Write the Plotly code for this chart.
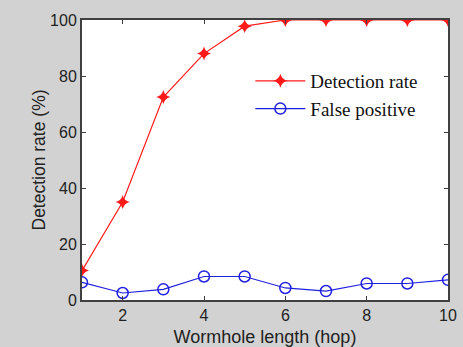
import plotly.graph_objects as go

hops = [1, 2, 3, 4, 5, 6, 7, 8, 9, 10]
detection_rate = [10.5, 35, 72.5, 88, 97.8, 100, 100, 100, 100, 100]
false_positive = [6.3, 2.5, 3.8, 8.4, 8.4, 4.3, 3.2, 5.9, 5.9, 7.2]
x_ticks = [2, 4, 6, 8, 10]
y_ticks = [0, 20, 40, 60, 80, 100]

W, H = 463, 347
L, R, T, B = 82, 15, 20, 47

fig = go.Figure()
fig.add_trace(go.Scatter(
    x=hops, y=detection_rate, name="Detection rate", mode="lines+markers",
    line=dict(color="#ff1a1a", width=1.2),
    marker=dict(symbol="star-diamond", size=10, color="#ff1a1a"),
))
fig.add_trace(go.Scatter(
    x=hops, y=false_positive, name="False positive", mode="lines+markers",
    line=dict(color="#2020e0", width=1.2),
    marker=dict(symbol="circle-open", size=11, color="#2020e0", line=dict(width=1.5)),
))

axis_common = dict(
    showline=True, linecolor="#404040", linewidth=2, mirror="ticks",
    ticks="inside", ticklen=4, tickcolor="#404040", tickwidth=1,
    showgrid=False, zeroline=False, automargin=False,
    tickfont=dict(family="Liberation Sans, Arial", size=16, color="#222222"),
)

fig.update_layout(
    width=W, height=H,
    margin=dict(l=L, r=R, t=T, b=B, autoexpand=False),
    paper_bgcolor="#d2d2d2",
    plot_bgcolor="white",
    xaxis=dict(range=[1, 10], tickvals=x_ticks,
               title=dict(text="Wormhole length (hop)", standoff=12,
                          font=dict(family="Liberation Sans, Arial", size=18, color="#222222")),
               **axis_common),
    yaxis=dict(range=[0, 100], tickvals=y_ticks,
               title=dict(text="Detection rate (%)", standoff=0,
                          font=dict(family="Liberation Sans, Arial", size=17.5, color="#222222")),
               **axis_common),
    legend=dict(x=0.46, y=0.85, xanchor="left", yanchor="top",
                itemwidth=50,
                bgcolor="rgba(0,0,0,0)", borderwidth=0,
                font=dict(family="Liberation Serif, Times New Roman", size=19, color="#111111")),
)

fig.write_html("out.html")
